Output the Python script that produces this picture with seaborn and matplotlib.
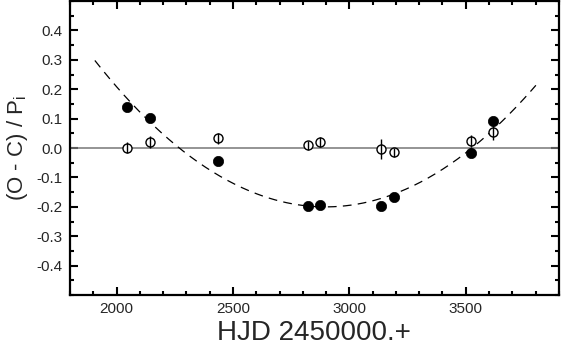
import matplotlib
matplotlib.use("Agg")
import matplotlib.pyplot as plt
from matplotlib.ticker import MultipleLocator
import numpy as np
import pandas as pd
import seaborn as sns

# filled points (O-C)/P_i
hjd_filled = [2045, 2142, 2434, 2821, 2874, 3138, 3192, 3521, 3616]
oc_filled = [0.140, 0.102, -0.044, -0.196, -0.193, -0.197, -0.167, -0.017, 0.092]

# open points with error bars
hjd_open = [2045, 2142, 2434, 2821, 2874, 3138, 3192, 3521, 3616]
oc_open = [0.001, 0.021, 0.033, 0.010, 0.021, -0.003, -0.015, 0.024, 0.055]
oc_open_err = [0.018, 0.020, 0.018, 0.015, 0.017, 0.033, 0.015, 0.020, 0.028]

# dashed parabola drawn over the filled points (vertex, curvature, range)
fit_vertex = (2898, -0.200)
fit_curv = 5.07e-7
fit_span = (1907, 3801)

sns.set_style("ticks")
plt.rcParams['font.family'] = ['Liberation Sans', 'DejaVu Sans']
plt.rcParams['mathtext.default'] = 'regular'

fig = plt.figure(figsize=(5.64, 3.48), dpi=100)
ax = fig.add_axes([0.124, 0.152, 0.867, 0.845])

ax.axhline(0, color='#777777', lw=1.1, zorder=1)

fit_x = np.linspace(fit_span[0], fit_span[1], 300)
fit_y = fit_curv * (fit_x - fit_vertex[0]) ** 2 + fit_vertex[1]
ax.plot(fit_x, fit_y, color='black', lw=0.9, dashes=(7, 5), zorder=2)

# open circles, then their error bars on top (the bar runs through the circle)
ax.plot(hjd_open, oc_open, 'o', mfc='white', mec='black', ms=6.5, mew=1.0, zorder=3)
ax.errorbar(hjd_open, oc_open, yerr=oc_open_err, fmt='none', ecolor='black',
            elinewidth=1.0, capsize=0, zorder=4)

df = pd.DataFrame({'hjd': hjd_filled, 'oc': oc_filled})
sns.scatterplot(data=df, x='hjd', y='oc', ax=ax, color='black', s=55,
                edgecolor='black', linewidth=0.5, zorder=5)

ax.set_xlim(1800, 3900)
ax.set_ylim(-0.5, 0.5)
ax.xaxis.set_major_locator(MultipleLocator(500))
ax.xaxis.set_minor_locator(MultipleLocator(100))
ax.yaxis.set_major_locator(MultipleLocator(0.1))
ax.yaxis.set_minor_locator(MultipleLocator(0.05))
ax.set_xticks([2000, 2500, 3000, 3500])
ax.set_yticks([-0.4, -0.3, -0.2, -0.1, 0.0, 0.1, 0.2, 0.3, 0.4])
ax.set_yticklabels(['-0.4', '-0.3', '-0.2', '-0.1', '0.0', '0.1', '0.2', '0.3', '0.4'])

ax.tick_params(which='both', direction='in', top=True, right=True, labelsize=11,
               width=1.5, color='black', pad=5)
ax.tick_params(which='major', length=6)
ax.tick_params(which='minor', length=3)
for s in ax.spines.values():
    s.set_linewidth(1.6)
    s.set_color('black')

ax.set_xlabel('HJD 2450000.+', fontsize=20, labelpad=3)
ax.set_ylabel('(O - C) / P$_i$', fontsize=16, labelpad=5)

fig.savefig('out.png', dpi=100)
